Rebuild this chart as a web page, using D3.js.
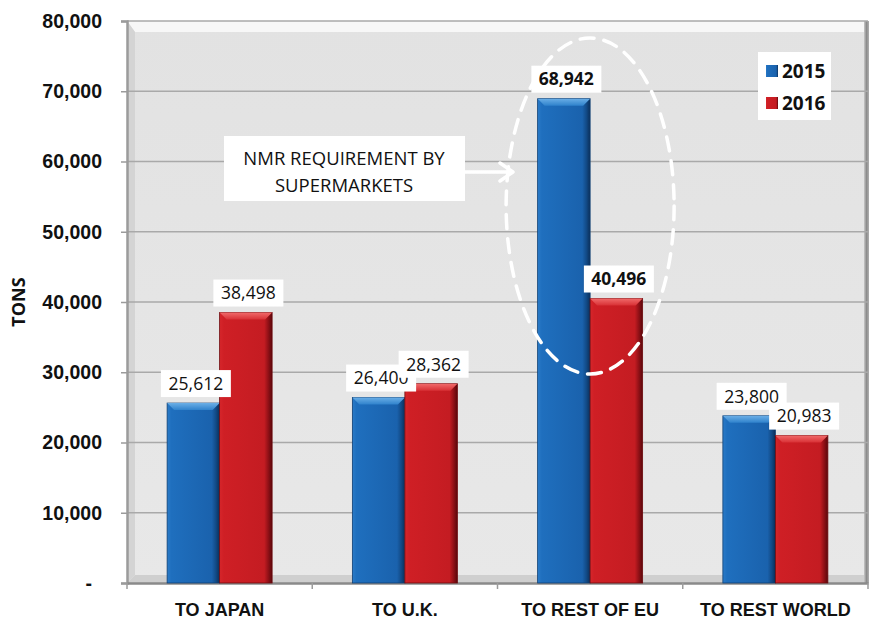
<!DOCTYPE html>
<html>
<head>
<meta charset="utf-8">
<script src="https://cdn.jsdelivr.net/npm/d3@7"></script>
<style>
  body { margin: 0; background: #fff; }
  svg { display: block; font-family: "Open Sans", sans-serif; }
</style>
</head>
<body>
<svg id="chart"></svg>
<script>
const categories = ['TO JAPAN', 'TO U.K.', 'TO REST OF EU', 'TO REST WORLD'];
const series = ['2015', '2016'];
const values2015 = [25612, 26400, 68942, 23800];
const values2016 = [38498, 28362, 40496, 20983];
const yTicks = [0, 10000, 20000, 30000, 40000, 50000, 60000, 70000, 80000];
const boldLabels = ['TO REST OF EU'];

const svgWidth = 873;
const svgHeight = 621;
const plotLeft = 127, plotRight = 868, plotTop = 21, plotBottom = 583;

const svg = d3.select('#chart')
  .attr('width', svgWidth)
  .attr('height', svgHeight);

const defs = svg.append('defs');

const makeGrad = (id, stops, vertical) => {
  const g = defs.append('linearGradient').attr('id', id)
    .attr('x1', 0).attr('y1', 0)
    .attr('x2', vertical ? 0 : 1).attr('y2', vertical ? 1 : 0);
  stops.forEach(s => g.append('stop').attr('offset', s[0]).attr('stop-color', s[1]));
};
makeGrad('wall', [[0, '#e2e2e2'], [1, '#e8e8e8']], true);
makeGrad('blueBar', [[0, '#2a7bc8'], [0.08, '#1f6fbe'], [0.85, '#1a62ad'], [0.93, '#124a86'], [1, '#0b2f5a']], false);
makeGrad('redBar', [[0, '#d6262b'], [0.08, '#cf1f25'], [0.85, '#c41c22'], [0.93, '#8e1016'], [1, '#5a070b']], false);
makeGrad('blueTop', [[0, '#6aaee6'], [1, '#2f82cc']], true);
makeGrad('redTop', [[0, '#f06a6a'], [1, '#d83035']], true);
makeGrad('rightEdge', [[0, '#c8c8c8'], [0.5, '#8c8c8c'], [1, '#b0b0b0']], false);

const yScale = d3.scaleLinear().domain([0, 80000]).range([plotBottom, plotTop]);
const xScale = d3.scaleBand().domain(categories).range([plotLeft, plotRight]);
const barW = 52.5;
const xSub = d3.scaleBand().domain(series)
  .range([xScale.bandwidth() / 2 - barW, xScale.bandwidth() / 2 + barW]);

// back wall
svg.append('rect')
  .attr('x', plotLeft).attr('y', plotTop)
  .attr('width', plotRight - plotLeft).attr('height', plotBottom - plotTop)
  .attr('fill', 'url(#wall)');
// lighter top band and side/floor edges for the 3D look
svg.append('path')
  .attr('d', `M${plotLeft},${plotTop} L${plotRight},${plotTop} L${plotRight - 4},${plotTop + 11} L${plotLeft + 8},${plotTop + 11} Z`)
  .attr('fill', '#f7f7f7');
svg.append('path')
  .attr('d', `M${plotLeft},${plotTop} L${plotLeft + 8},${plotTop + 11} L${plotLeft + 8},${plotBottom - 8} L${plotLeft},${plotBottom} Z`)
  .attr('fill', '#d4d4d4');
svg.append('path')
  .attr('d', `M${plotLeft},${plotBottom} L${plotLeft + 8},${plotBottom - 8} L${plotRight - 4},${plotBottom - 8} L${plotRight},${plotBottom} Z`)
  .attr('fill', '#cfcfcf');
svg.append('rect')
  .attr('x', plotRight - 4).attr('y', plotTop)
  .attr('width', 5).attr('height', plotBottom - plotTop)
  .attr('fill', 'url(#rightEdge)');

// gridlines
svg.append('g')
  .selectAll('line')
  .data(yTicks.filter(d => d > 0))
  .enter()
  .append('line')
  .attr('x1', plotLeft).attr('x2', plotRight)
  .attr('y1', d => yScale(d)).attr('y2', d => yScale(d))
  .attr('stroke', '#a9a9a9')
  .attr('stroke-width', 1.6);

// axes
const yAxis = d3.axisLeft(yScale)
  .tickValues(yTicks)
  .tickSize(6)
  .tickFormat(d => d === 0 ? '-' : d3.format(',')(d));
const yG = svg.append('g')
  .attr('transform', `translate(${plotLeft},0)`)
  .call(yAxis);
yG.select('.domain').attr('stroke', '#9b9b9b').attr('stroke-width', 2.5);
yG.selectAll('.tick line').attr('stroke', '#9b9b9b').attr('stroke-width', 1.5);
yG.selectAll('.tick text')
  .attr('x', d => d === 0 ? -35 : -25)
  .attr('font-size', 19.5)
  .attr('font-weight', 'bold')
  .attr('fill', '#111');

const xAxis = d3.axisBottom(xScale).tickSize(0).tickPadding(20);
const xG = svg.append('g')
  .attr('transform', `translate(0,${plotBottom})`)
  .call(xAxis);
xG.select('.domain').attr('stroke', '#8a8a8a').attr('stroke-width', 2.5);
xG.selectAll('.tick text')
  .attr('font-size', 18)
  .attr('font-weight', 'bold')
  .attr('fill', '#111');
// tick marks between categories
svg.append('g')
  .selectAll('line')
  .data(d3.range(categories.length + 1))
  .enter()
  .append('line')
  .attr('x1', i => plotLeft + i * xScale.step())
  .attr('x2', i => plotLeft + i * xScale.step())
  .attr('y1', plotBottom).attr('y2', plotBottom + 6)
  .attr('stroke', '#9b9b9b')
  .attr('stroke-width', 1.5);

// axis title
svg.append('text')
  .attr('transform', 'translate(19,302) rotate(-90)')
  .attr('text-anchor', 'middle')
  .attr('dy', '0.35em')
  .attr('font-size', 18)
  .attr('font-weight', 'bold')
  .attr('fill', '#111')
  .text('TONS');

// bars
const rows = categories.map((c, i) => ({
  cat: c,
  items: [
    { key: '2015', value: values2015[i] },
    { key: '2016', value: values2016[i] }
  ]
}));

const groups = svg.append('g')
  .selectAll('g')
  .data(rows)
  .enter()
  .append('g')
  .attr('transform', d => `translate(${xScale(d.cat)},0)`);

const bars = groups.selectAll('g.bar')
  .data(d => d.items)
  .enter()
  .append('g')
  .attr('class', 'bar');

bars.append('rect')
  .attr('x', d => xSub(d.key))
  .attr('y', d => yScale(d.value))
  .attr('width', xSub.bandwidth())
  .attr('height', d => plotBottom - yScale(d.value))
  .attr('fill', d => d.key === '2015' ? 'url(#blueBar)' : 'url(#redBar)')
  .attr('stroke', d => d.key === '2015' ? '#0f3f73' : '#6e0a0e')
  .attr('stroke-width', 0.8);

bars.append('path')
  .attr('d', d => {
    const x0 = xSub(d.key), x1 = x0 + xSub.bandwidth(), y0 = yScale(d.value);
    return `M${x0},${y0} L${x1},${y0} L${x1 - 7},${y0 + 7} L${x0 + 7},${y0 + 7} Z`;
  })
  .attr('fill', d => d.key === '2015' ? 'url(#blueTop)' : 'url(#redTop)');

// value labels (white boxes)
const labels = groups.selectAll('g.lbl')
  .data(d => d.items.map(it => ({ ...it, cat: d.cat })))
  .enter()
  .append('g')
  .attr('class', 'lbl')
  .attr('transform', d => `translate(${xSub(d.key) + xSub.bandwidth() / 2 + 2.5},${yScale(d.value) - 19.5})`);

labels.append('rect')
  .attr('x', -35).attr('y', -13.5)
  .attr('width', 70).attr('height', 27)
  .attr('fill', '#fff');

labels.append('text')
  .attr('text-anchor', 'middle')
  .attr('dy', '0.36em')
  .attr('font-size', 17.5)
  .attr('font-weight', d => boldLabels.includes(d.cat) ? 'bold' : 'normal')
  .attr('fill', '#111')
  .text(d => d3.format(',')(d.value));

// legend
const legend = svg.append('g').attr('transform', 'translate(758,52)');
legend.append('rect')
  .attr('width', 73).attr('height', 68)
  .attr('fill', '#fff');
legend.selectAll('g')
  .data(series)
  .enter()
  .append('g')
  .attr('transform', (d, i) => `translate(8,${19 + i * 32})`)
  .each(function (d) {
    const g = d3.select(this);
    g.append('rect')
      .attr('x', 0).attr('y', -6)
      .attr('width', 12).attr('height', 12)
      .attr('fill', d === '2015' ? 'url(#blueBar)' : 'url(#redBar)');
    g.append('text')
      .attr('x', 16)
      .attr('dy', '0.36em')
      .attr('font-size', 19)
      .attr('font-weight', 'bold')
      .attr('fill', '#111')
      .text(d);
  });

// annotation
const note = svg.append('g');
note.append('rect')
  .attr('x', 224).attr('y', 136)
  .attr('width', 241).attr('height', 65)
  .attr('fill', '#fff');
note.append('text')
  .attr('x', 344).attr('y', 158)
  .attr('dy', '0.36em')
  .attr('text-anchor', 'middle')
  .attr('font-size', 18.5)
  .attr('fill', '#111')
  .text('NMR REQUIREMENT BY');
note.append('text')
  .attr('x', 344).attr('y', 185)
  .attr('dy', '0.36em')
  .attr('text-anchor', 'middle')
  .attr('font-size', 18.5)
  .attr('fill', '#111')
  .text('SUPERMARKETS');
note.append('path')
  .attr('d', 'M465,172 L512,172 M500,163 L513,172 L500,181')
  .attr('fill', 'none')
  .attr('stroke', '#fff')
  .attr('stroke-width', 3.5)
  .attr('stroke-linecap', 'round')
  .attr('stroke-linejoin', 'round');

// dashed ellipse around EU bars
svg.append('ellipse')
  .attr('cx', xScale('TO REST OF EU') + xScale.bandwidth() / 2)
  .attr('cy', 206)
  .attr('rx', 84)
  .attr('ry', 168)
  .attr('fill', 'none')
  .attr('stroke', '#fff')
  .attr('stroke-width', 3.5)
  .attr('stroke-dasharray', '14,10')
  .attr('stroke-linecap', 'round');
</script>
</body>
</html>
